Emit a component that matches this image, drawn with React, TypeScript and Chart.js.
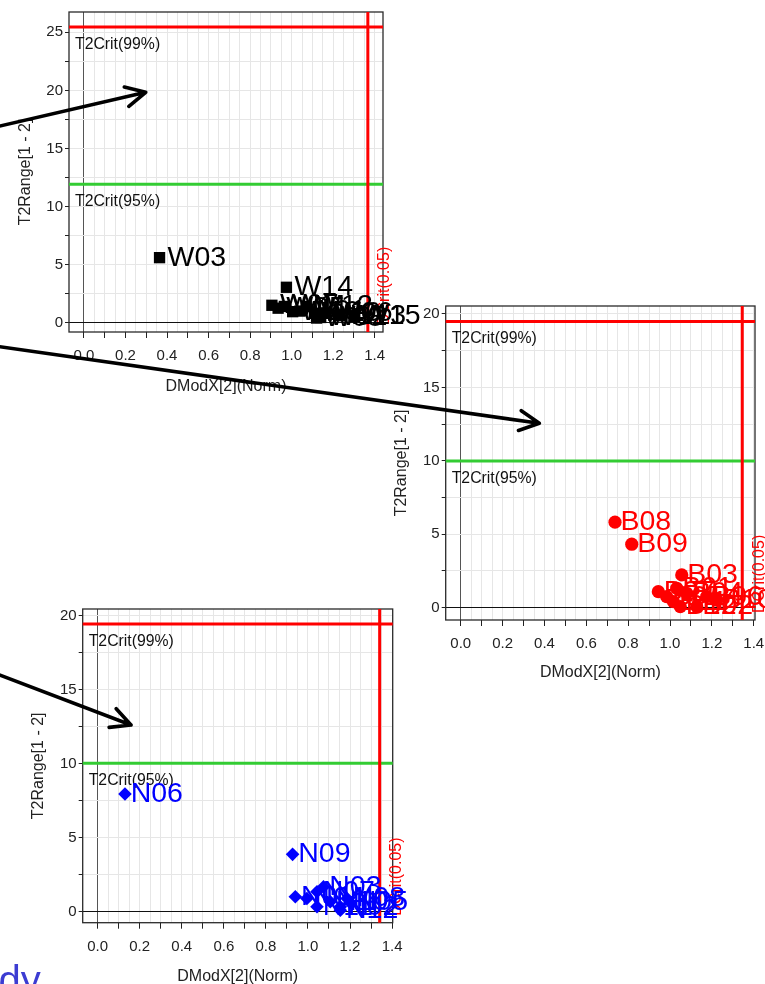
import React, { useEffect, useRef } from "react";
import { Chart, registerables } from "chart.js";

Chart.register(...registerables);

const FONT = '"Liberation Sans", Arial, Helvetica, sans-serif';

// Shared axis ticks
const xLabelledTicks = [0.0, 0.2, 0.4, 0.6, 0.8, 1.0, 1.2, 1.4];
const xTickMarkStep = 0.1;
const xGridStep = 0.05;
const yGridStep = 2.5;
const yLabelStep = 5;

// Batch W
const wNames = ["W03", "W14", "W07", "W05", "W11", "W16", "W12", "W01", "W10", "W02", "W06", "W08", "W13", "W15"];
const wDModX = [0.364, 0.975, 0.905, 0.935, 0.965, 1.005, 1.07, 1.04, 1.11, 1.14, 1.165, 1.12, 1.23, 1.3];
const wT2Range = [5.6, 3.05, 1.5, 1.25, 1.4, 0.95, 1.4, 1.0, 0.8, 0.45, 0.85, 0.4, 0.6, 0.55];
const wLimits = { t2Crit99: 25.46, t2Crit95: 11.93, dCrit: 1.367 };

// Batch B
const bNames = ["B08", "B09", "B03", "B07", "B01", "B04", "B05", "B11", "B06", "B10", "B12", "B02"];
const bDModX = [0.737, 0.817, 1.056, 0.944, 1.032, 1.08, 0.984, 1.016, 1.175, 1.223, 1.049, 1.128];
const bT2Range = [5.82, 4.32, 2.23, 1.09, 1.32, 0.98, 0.75, 0.41, 0.75, 0.52, 0.07, 0.07];
const bLimits = { t2Crit99: 19.48, t2Crit95: 9.99, dCrit: 1.345 };

// Batch N
const nNames = ["N06", "N09", "N01", "N04", "N07", "N03", "N10", "N02", "N08", "N11", "N12", "N05"];
const nDModX = [0.13, 0.927, 0.94, 0.995, 1.043, 1.074, 1.106, 1.154, 1.186, 1.043, 1.154, 1.2];
const nT2Range = [7.96, 3.88, 1.01, 0.9, 1.35, 1.69, 0.68, 0.34, 0.9, 0.34, 0.11, 0.62];
const nLimits = { t2Crit99: 19.46, t2Crit95: 10.04, dCrit: 1.341 };

type Box = { left: number; top: number; width: number; height: number };
type Area = { left: number; top: number; right: number; bottom: number };

interface PanelSpec {
  names: string[];
  xs: number[];
  ys: number[];
  limits: { t2Crit99: number; t2Crit95: number; dCrit: number };
  color: string;
  pointStyle: "rect" | "circle" | "rectRot";
  radius: number;
  labelGap: number;
  xRange: [number, number];
  yRange: [number, number];
  canvas: Box;
  area: Area;
  yTitleX: number;
  xTitleY: number;
}

const panels: PanelSpec[] = [
  {
    names: nNames, xs: nDModX, ys: nT2Range, limits: nLimits,
    color: "#0000ff", pointStyle: "rectRot", radius: 6.8, labelGap: 5.7,
    xRange: [-0.071, 1.403], yRange: [-0.74, 20.47],
    canvas: { left: 0, top: 590, width: 440, height: 400 },
    area: { left: 82.7, top: 19, right: 392.7, bottom: 332.7 },
    yTitleX: 38.3, xTitleY: 386.5,
  },
  {
    names: bNames, xs: bDModX, ys: bT2Range, limits: bLimits,
    color: "#ff0000", pointStyle: "circle", radius: 6.6, labelGap: 5.5,
    xRange: [-0.072, 1.406], yRange: [-0.84, 20.54],
    canvas: { left: 390, top: 295, width: 400, height: 400 },
    area: { left: 55.7, top: 11, right: 365, bottom: 325 },
    yTitleX: 11.7, xTitleY: 378,
  },
  {
    names: wNames, xs: wDModX, ys: wT2Range, limits: wLimits,
    color: "#000000", pointStyle: "rect", radius: 8, labelGap: 8,
    xRange: [-0.072, 1.44], yRange: [-0.8, 26.75],
    canvas: { left: 0, top: 0, width: 440, height: 400 },
    area: { left: 69, top: 12, right: 383, bottom: 332 },
    yTitleX: 26, xTitleY: 387,
  },
];

const TITLE_SIZE = 16;
const TITLE_HALF = (TITLE_SIZE * 1.2) / 2;

const isMultiple = (v: number, step: number) => Math.abs(v / step - Math.round(v / step)) < 1e-6;

function stepTicks(from: number, to: number, step: number) {
  const out: { value: number }[] = [];
  const n = Math.floor(to / step + 1e-9);
  for (let i = Math.ceil(from / step - 1e-9); i <= n; i++) out.push({ value: Math.round(i * step * 1000) / 1000 });
  return out;
}

function makeChart(canvas: HTMLCanvasElement, spec: PanelSpec) {
  const { area, canvas: box } = spec;
  const xBottom = spec.xTitleY + TITLE_HALF;

  const limitPlugin = {
    id: "limits",
    beforeDatasetsDraw(chart: any) {
      const { ctx, chartArea: ca, scales } = chart;
      const xs = scales.x, ys = scales.y;
      const y99 = ys.getPixelForValue(spec.limits.t2Crit99);
      const y95 = ys.getPixelForValue(spec.limits.t2Crit95);
      const xd = xs.getPixelForValue(spec.limits.dCrit);
      ctx.save();
      // plot frame
      ctx.strokeStyle = "#2a2a2a";
      ctx.lineWidth = 1.3;
      ctx.strokeRect(ca.left, ca.top, ca.right - ca.left, ca.bottom - ca.top);
      // critical limit lines
      ctx.lineWidth = 3;
      ctx.strokeStyle = "#33cc33";
      ctx.beginPath(); ctx.moveTo(ca.left, y95); ctx.lineTo(ca.right, y95); ctx.stroke();
      ctx.strokeStyle = "#ff0000";
      ctx.beginPath(); ctx.moveTo(ca.left, y99); ctx.lineTo(ca.right, y99); ctx.stroke();
      ctx.beginPath(); ctx.moveTo(xd, ca.top); ctx.lineTo(xd, ca.bottom); ctx.stroke();
      // limit captions
      ctx.font = `15.8px ${FONT}`;
      ctx.fillStyle = "#111";
      ctx.textAlign = "left";
      ctx.textBaseline = "middle";
      ctx.fillText("T2Crit(99%)", ca.left + 6, y99 + 17.5);
      ctx.fillText("T2Crit(95%)", ca.left + 6, y95 + 17.5);
      ctx.fillStyle = "#ff0000";
      ctx.font = `16px ${FONT}`;
      ctx.translate(xd + 17, ca.bottom - 7);
      ctx.rotate(-Math.PI / 2);
      ctx.fillText("DCrit(0.05)", 0, 0);
      ctx.restore();
    },
    afterDatasetsDraw(chart: any) {
      const { ctx } = chart;
      const meta = chart.getDatasetMeta(0);
      ctx.save();
      ctx.font = `28.5px ${FONT}`;
      ctx.fillStyle = spec.color;
      ctx.textAlign = "left";
      ctx.textBaseline = "middle";
      meta.data.forEach((el: any, i: number) => {
        ctx.fillText(spec.names[i], el.x + spec.labelGap, el.y);
      });
      ctx.restore();
    },
  };

  return new Chart(canvas, {
    type: "scatter",
    data: {
      datasets: [
        {
          data: spec.xs.map((x, i) => ({ x, y: spec.ys[i] })),
          pointStyle: spec.pointStyle,
          pointRadius: spec.radius,
          pointHoverRadius: spec.radius,
          pointBackgroundColor: spec.color,
          backgroundColor: spec.color,
          pointBorderWidth: 0,
          borderWidth: 0,
          clip: false,
        } as any,
      ],
    },
    options: {
      animation: false,
      responsive: false,
      maintainAspectRatio: false,
      devicePixelRatio: 1,
      events: [],
      layout: {
        padding: {
          left: 0,
          top: area.top,
          right: box.width - area.right,
          bottom: box.height - xBottom,
        },
      },
      plugins: { legend: { display: false }, tooltip: { enabled: false } },
      scales: {
        x: {
          type: "linear",
          min: spec.xRange[0],
          max: spec.xRange[1],
          afterBuildTicks: (s: any) => {
            s.ticks = stepTicks(0, xLabelledTicks[xLabelledTicks.length - 1], xGridStep);
          },
          afterFit: (s: any) => {
            s.height = xBottom - area.bottom;
          },
          border: { display: false },
          grid: {
            drawTicks: true,
            tickLength: 6,
            lineWidth: 1,
            color: (c: any) => (c.tick && Math.abs(c.tick.value) < 1e-9 ? "#555" : "#e6e6e6"),
            tickColor: (c: any) => (c.tick && isMultiple(c.tick.value, xTickMarkStep) ? "#222" : "rgba(0,0,0,0)"),
          },
          ticks: {
            autoSkip: false,
            maxRotation: 0,
            padding: 9,
            color: "#222",
            font: { family: FONT, size: 15 },
            callback: (v: any) => (xLabelledTicks.some((t) => Math.abs(t - v) < 1e-6) ? Number(v).toFixed(1) : ""),
          },
          title: {
            display: true,
            text: "DModX[2](Norm)",
            color: "#222",
            font: { family: FONT, size: TITLE_SIZE },
            padding: { top: 0, bottom: 0 },
          },
        },
        y: {
          type: "linear",
          min: spec.yRange[0],
          max: spec.yRange[1],
          afterBuildTicks: (s: any) => {
            s.ticks = stepTicks(0, spec.yRange[1], yGridStep);
          },
          afterFit: (s: any) => {
            s.width = area.left;
          },
          border: { display: false },
          grid: {
            drawTicks: true,
            tickLength: 4,
            lineWidth: 1,
            color: (c: any) => (c.tick && Math.abs(c.tick.value) < 1e-9 ? "#111" : "#e6e6e6"),
            tickColor: "#222",
          },
          ticks: {
            autoSkip: false,
            padding: 2,
            color: "#222",
            font: { family: FONT, size: 15 },
            callback: (v: any) => (isMultiple(Number(v), yLabelStep) ? String(Math.round(Number(v))) : ""),
          },
          title: {
            display: true,
            text: "T2Range[1 - 2]",
            color: "#222",
            font: { family: FONT, size: TITLE_SIZE },
            padding: { top: spec.yTitleX - TITLE_HALF, bottom: 0 },
          },
        },
      },
    },
    plugins: [limitPlugin],
  } as any);
}

function Panel({ spec }: { spec: PanelSpec }) {
  const ref = useRef<HTMLCanvasElement | null>(null);
  useEffect(() => {
    if (!ref.current) return;
    const chart = makeChart(ref.current, spec);
    return () => chart.destroy();
  }, [spec]);
  const b = spec.canvas;
  return (
    <canvas
      ref={ref}
      width={b.width}
      height={b.height}
      style={{ position: "absolute", left: b.left, top: b.top, width: b.width, height: b.height }}
    />
  );
}

// Pointer arrows: start point, tip
const arrows: [number, number, number, number][] = [
  [-3, 126.7, 145.7, 92.3],
  [-3, 346.3, 539.3, 423.3],
  [-3, 674, 131, 725],
];

function arrowPath(x1: number, y1: number, x2: number, y2: number) {
  const a = Math.atan2(y2 - y1, x2 - x1) + Math.PI;
  const len = 22;
  const spread = (27 * Math.PI) / 180;
  const w1 = [x2 + len * Math.cos(a + spread), y2 + len * Math.sin(a + spread)];
  const w2 = [x2 + len * Math.cos(a - spread), y2 + len * Math.sin(a - spread)];
  return `M${x1},${y1} L${x2},${y2} M${w1[0]},${w1[1]} L${x2},${y2} L${w2[0]},${w2[1]}`;
}

export default function App() {
  return (
    <div
      style={{
        position: "absolute",
        left: 0,
        top: 0,
        width: 765,
        height: 984,
        overflow: "hidden",
        background: "#fff",
      }}
    >
      {panels.map((p, i) => (
        <Panel key={i} spec={p} />
      ))}
      <svg
        width={765}
        height={984}
        style={{ position: "absolute", left: 0, top: 0, pointerEvents: "none" }}
      >
        {arrows.map((a, i) => (
          <path
            key={i}
            d={arrowPath(a[0], a[1], a[2], a[3])}
            fill="none"
            stroke="#000"
            strokeWidth={3.6}
            strokeLinecap="round"
            strokeLinejoin="round"
          />
        ))}
        <text x={-1.5} y={994} fontFamily={FONT} fontSize={40} fill="#3c3cd2">
          dy
        </text>
      </svg>
    </div>
  );
}
